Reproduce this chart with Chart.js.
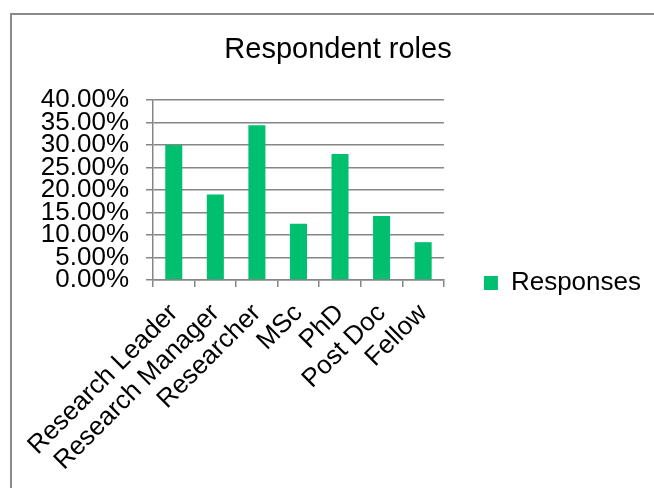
<!DOCTYPE html>
<html>
<head>
<meta charset="utf-8">
<script src="https://cdn.jsdelivr.net/npm/chart.js@4"></script>
<style>
    html, body { margin: 0; padding: 0; background: #ffffff; }
    #wrap { position: relative; width: 654px; height: 488px; overflow: hidden; }
    #frame {
        position: absolute; left: 10px; top: 13px; width: 700px; height: 520px;
        border-left: 2px solid #8a8a8a; border-top: 2px solid #8a8a8a;
    }
    #chartRoles { position: absolute; left: 0; top: 0; }
</style>
</head>
<body>
<div id="wrap">
    <div id="frame"></div>
    <!-- o canvas é mais alto que a janela para a legenda ficar centrada como no original -->
    <canvas id="chartRoles" width="654" height="566"></canvas>
</div>
<script>
// dados
var categorias = ['Research Leader', 'Research Manager', 'Researcher', 'MSc', 'PhD', 'Post Doc', 'Fellow'];
var respostas = [0.300, 0.190, 0.344, 0.125, 0.280, 0.142, 0.084];
var nomeSerie = 'Responses';
var titulo = 'Respondent roles';
var eixoMax = 0.40;
var eixoPasso = 0.05;

var fonte = 'Arial, "Liberation Sans", sans-serif';
var cinza = '#868686';

var ctx = document.getElementById('chartRoles');

var grafico = new Chart(ctx, {
    type: 'bar',
    data: {
        labels: categorias,
        datasets: [{
            label: nomeSerie,
            data: respostas,
            backgroundColor: '#00bf6f',
            borderWidth: 0,
            barPercentage: 0.41,
            categoryPercentage: 1.0
        }]
    },
    options: {
        responsive: false,
        animation: false,
        layout: {
            padding: { left: 25, right: 3, top: 0, bottom: 0 }
        },
        plugins: {
            title: {
                display: true,
                text: titulo,
                color: '#000000',
                font: { family: fonte, size: 29, weight: 'normal' },
                padding: { top: 33, bottom: 32.2 }
            },
            legend: {
                position: 'right',
                align: 'center',
                maxWidth: 220,
                labels: {
                    color: '#000000',
                    font: { family: fonte, size: 26 },
                    boxWidth: 14,
                    boxHeight: 14,
                    padding: 40
                }
            },
            tooltip: { enabled: false }
        },
        scales: {
            x: {
                afterFit: function (scale) { scale.height = 286; },
                grid: {
                    drawOnChartArea: false,
                    drawTicks: true,
                    tickLength: 7,
                    color: cinza,
                    lineWidth: 1.5
                },
                border: { color: cinza, width: 1.5 },
                ticks: {
                    color: '#000000',
                    font: { family: fonte, size: 26 },
                    maxRotation: 45,
                    minRotation: 45,
                    autoSkip: false,
                    padding: 11
                }
            },
            y: {
                min: 0,
                max: eixoMax,
                afterFit: function (scale) { scale.width = 128; },
                grid: {
                    color: cinza,
                    lineWidth: 1.5,
                    tickLength: 7
                },
                border: { color: cinza, width: 1.5 },
                ticks: {
                    stepSize: eixoPasso,
                    autoSkip: false,
                    color: '#000000',
                    font: { family: fonte, size: 26 },
                    padding: 17,
                    callback: function (v) { return (v * 100).toFixed(2) + '%'; }
                }
            }
        }
    }
});
</script>
</body>
</html>
